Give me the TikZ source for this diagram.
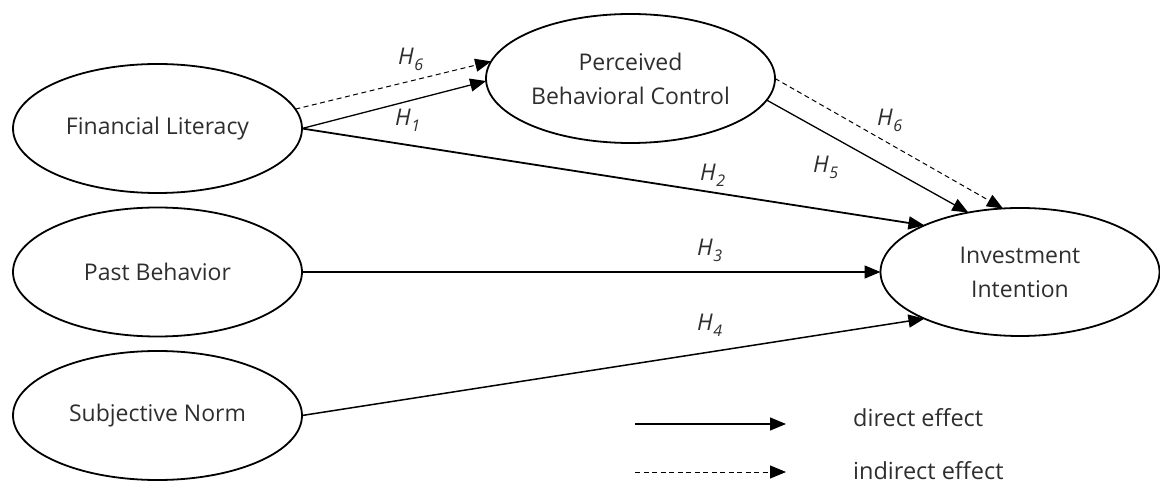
\documentclass[tikz,border=0pt]{standalone}
\usepackage{fontspec}
\setmainfont{Open Sans}
\usetikzlibrary{arrows.meta,shapes.geometric}
\newcommand\Hlab[1]{H\kern0.5pt\raisebox{-5.5pt}{\fontsize{16}{16}\selectfont #1}}
\begin{document}
\begin{tikzpicture}[x=1pt,y=-1pt,
  construct/.style={ellipse,draw,line width=1.8pt,minimum width=289pt,minimum height=129pt,
    inner sep=0pt,outer sep=0pt,align=center,font=\fontsize{23}{34}\selectfont,text=black!82},
  effect/.style={line width=1.3pt,-{Triangle[length=16pt,width=13pt]}},
  indirect/.style={effect,line width=1pt,dash pattern=on 5pt off 3.5pt},
  hyplabel/.style={anchor=base west,inner sep=0pt,font=\fontsize{23}{23}\selectfont\itshape,text=black!82},
  legtext/.style={anchor=base west,inner sep=0pt,font=\fontsize{23.5}{23.5}\selectfont,text=black!82}
]
\useasboundingbox (0,0) rectangle (1160,486);

\node[construct] (fl)  at (157.5,128.5) {Financial Literacy};
\node[construct] (pb)  at (157.5,272)   {Past Behavior};
\node[construct] (sn)  at (157.5,415.5) {Subjective Norm};
\node[construct] (pbc) at (630.5,78.5)  {Perceived\\Behavioral Control};
\node[construct,minimum width=279pt,minimum height=128pt] (ii) at (1020,272) {Investment\\Intention};

% connectors
\draw[indirect] (fl.8) -- (pbc.173);
\draw[effect] (fl.east) -- (pbc.181);
\draw[effect,line width=1.8pt] (fl.east) -- (ii.154);
\draw[effect] (pbc.-9) -- (ii.131);
\draw[indirect] (pbc.east) -- (ii.105);
\draw[effect,line width=1.5pt] (pb.east) -- (ii.west);
\draw[effect,line width=1.5pt] (sn.east) -- (ii.206);

% hypothesis labels
\node[hyplabel] (h6a) at (398,65)  {\Hlab{6}};
\node[hyplabel] (h1)  at (395,126) {\Hlab{1}};
\node[hyplabel] (h2)  at (700,181) {\Hlab{2}};
\node[hyplabel] (h5)  at (813,173) {\Hlab{5}};
\node[hyplabel] (h6b) at (877,126) {\Hlab{6}};
\node[hyplabel] (h3)  at (697,256) {\Hlab{3}};
\node[hyplabel] (h4)  at (697,331) {\Hlab{4}};

% legend
\coordinate (ls1) at (635,424);
\coordinate (le1) at (786,424);
\coordinate (ls2) at (635,472);
\coordinate (le2) at (786,472);
\draw[effect] (ls1) -- (le1);
\draw[indirect] (ls2) -- (le2);
\node[legtext] (ld) at (853,427) {direct effect};
\node[legtext] (li) at (853,479) {indirect effect};
\end{tikzpicture}
\end{document}
